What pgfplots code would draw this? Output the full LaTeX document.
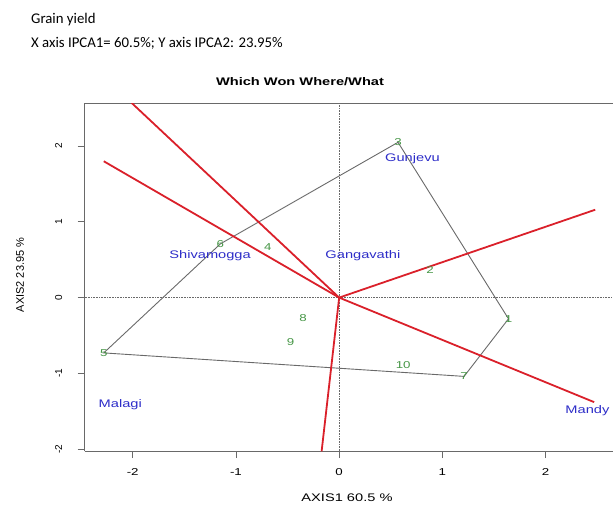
\documentclass[border=0pt]{standalone}
\usepackage{pgfplots}
\pgfplotsset{compat=1.18}
\usepackage{fontspec}
\setmainfont{Liberation Sans}
\newfontfamily\rfont[FakeStretch=1.33]{Liberation Sans}
\newfontfamily\calfont{Carlito}
\definecolor{rred}{RGB}{218,32,42}
\definecolor{rgreen}{RGB}{70,150,70}
\definecolor{rblue}{RGB}{45,45,200}
\definecolor{rgray}{RGB}{105,105,105}
\begin{document}
\begin{tikzpicture}[x=1pt,y=1pt]
\useasboundingbox (0,0) rectangle (613,506);
\node[anchor=west,font=\calfont\fontsize{14.8}{16}\selectfont,inner sep=0pt] at (31,486) {Grain yield};
\node[anchor=west,font=\calfont\fontsize{14.8}{16}\selectfont,inner sep=0pt] at (31,463) {X axis IPCA1= 60.5\%; Y axis IPCA2: 23.95\%};
\node[font=\rfont\bfseries\fontsize{11}{13}\selectfont] at (300,424) {Which Won Where/What};
\node[font=\rfont\fontsize{11}{13}\selectfont] at (347,8) {AXIS1 60.5 \%};
\node[rotate=90,font=\fontsize{11}{13}\selectfont] at (20,231) {AXIS2 23.95 \%};
\begin{axis}[
  at={(82,72.5)}, anchor=south west, scale only axis,
  width=528pt, height=348pt,
  xmin=-2.465, xmax=2.649, ymin=-2.026, ymax=2.568,
  axis x line*=box, axis y line*=left,
  xtick pos=bottom, ytick pos=left,
  tick align=outside, major tick length=7pt,
  xtick={-2,-1,0,1,2}, ytick={-2,-1,0,1,2},
  xticklabels={{-2},{-1},0,1,2},
  yticklabels={{-2},{-1},0,1,2},
  xticklabel shift=7pt, yticklabel shift=12pt,
  xticklabel style={font=\rfont\fontsize{10}{12}\selectfont},
  yticklabel style={font=\fontsize{10}{12}\selectfont, rotate=90, anchor=south},
  axis line style={rgray, line width=1pt},
  every tick/.style={rgray, line width=0.8pt},
  clip=true,
]
% reference lines
\addplot[rgray, densely dotted, line width=0.6pt] coordinates {(0,-2.026) (0,2.568)};
\addplot[rgray, densely dotted, line width=0.6pt] coordinates {(-2.465,0) (2.649,0)};
% convex hull
\addplot[rgray, line width=0.9pt] coordinates {(0.57,2.05) (1.64,-0.28) (1.21,-1.04) (-2.28,-0.73) (-1.15,0.71) (0.57,2.05)};
% sector rays
\addplot[rred, line width=1.8pt] coordinates {(0,0) (-2.01,2.57)};
\addplot[rred, line width=1.8pt] coordinates {(0,0) (-2.28,1.80)};
\addplot[rred, line width=1.8pt] coordinates {(0,0) (2.48,1.16)};
\addplot[rred, line width=1.8pt] coordinates {(0,0) (2.47,-1.38)};
\addplot[rred, line width=1.8pt] coordinates {(0,0) (-0.17,-2.03)};
% genotypes
\addplot[only marks, mark=none, point meta=explicit symbolic,
  nodes near coords, nodes near coords align=center,
  every node near coord/.style={font=\rfont\fontsize{10}{12}\selectfont, text=rgreen, anchor=center}]
  table[meta=lab] {
x y lab
1.64 -0.28 1
0.88 0.36 2
0.57 2.05 3
-0.69 0.67 4
-2.28 -0.73 5
-1.15 0.71 6
1.21 -1.04 7
-0.35 -0.27 8
-0.47 -0.59 9
0.62 -0.89 10
};
% environments
\addplot[only marks, mark=none, point meta=explicit symbolic,
  nodes near coords, nodes near coords align=center,
  every node near coord/.style={font=\rfont\fontsize{11}{13}\selectfont, text=rblue, anchor=center}]
  table[meta=lab] {
x y lab
0.71 1.83 Gunjevu
0.23 0.56 Gangavathi
-1.25 0.56 Shivamogga
-2.12 -1.41 Malagi
};
\addplot[only marks, mark=none, point meta=explicit symbolic,
  nodes near coords, nodes near coords align=center,
  every node near coord/.style={font=\rfont\fontsize{11}{13}\selectfont, text=rblue, anchor=west, inner sep=0pt}]
  table[meta=lab] {
x y lab
2.19 -1.49 Mandy
};
\end{axis}
\end{tikzpicture}
\end{document}
